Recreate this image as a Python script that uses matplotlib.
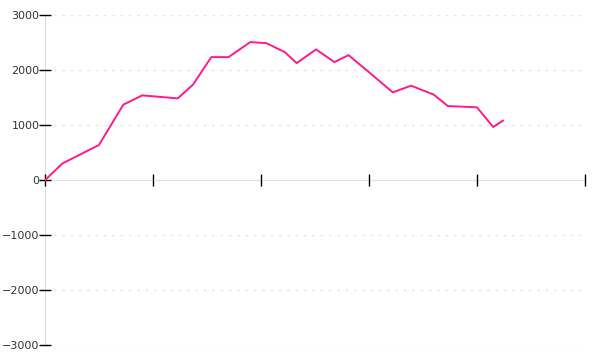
import matplotlib
matplotlib.use("Agg")
import matplotlib.pyplot as plt

# values
x_vals = [0, 1.6, 5.0, 7.25, 9.0, 10.8, 12.3, 13.7, 15.4, 17.0, 19.0, 20.5, 22.2, 23.3,
          25.1, 26.8, 28.1, 30.1, 32.2, 33.9, 36.0, 37.3, 40.0, 41.5, 42.4]
y_vals = [0, 304, 642, 1376, 1545, 1515, 1491, 1740, 2242, 2242, 2515, 2496, 2333, 2133,
          2382, 2151, 2278, 1951, 1600, 1722, 1558, 1351, 1327, 969, 1085]
x_ticks = [0, 10, 20, 30, 40, 50]
y_ticks = [-3000, -2000, -1000, 0, 1000, 2000, 3000]

fig = plt.figure(figsize=(6, 3.6), dpi=100)
ax = fig.add_axes([0.075, 0.0417, 0.9, 0.9153])

ax.plot(x_vals, y_vals, color="#ff1a8c", linewidth=1.4, solid_joinstyle="round", zorder=4)

ax.set_xlim(0, 50)
ax.set_ylim(-3000, 3000)
ax.set_xticks(x_ticks)
ax.set_xticklabels([])
ax.set_yticks(y_ticks)
ax.set_yticklabels([str(v).replace("-", "\u2212") for v in y_ticks])

for side in ("top", "right"):
    ax.spines[side].set_visible(False)
for side in ("left", "bottom"):
    ax.spines[side].set_color("#dddddd")
    ax.spines[side].set_zorder(0)
ax.spines["bottom"].set_position(("data", 0))

ax.tick_params(axis="x", direction="inout", length=8, width=1, color="black")
ax.tick_params(axis="y", direction="inout", length=8, width=1, color="black",
               labelsize=8, labelcolor="#333333", pad=0)

ax.yaxis.grid(True, linestyle=(0, (2, 4)), color="#e6e6e6", linewidth=1)

fig.savefig("out.png", dpi=100)
